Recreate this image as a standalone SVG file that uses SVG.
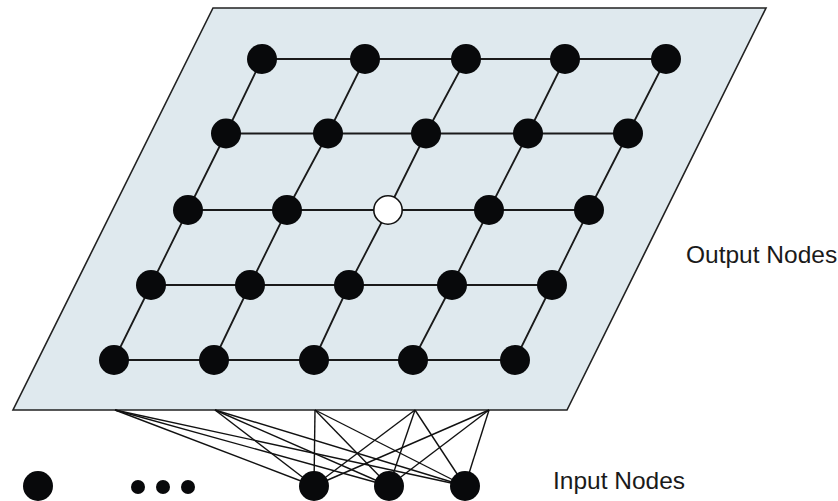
<svg xmlns="http://www.w3.org/2000/svg" width="838" height="501" viewBox="0 0 838 501">
<style>
.plane{fill:#dfe9ee;stroke:#222;stroke-width:1.6}
.grid line{stroke:#1a1a1a;stroke-width:1.8}
.links line{stroke:#111;stroke-width:1.4}
.n{fill:#08090b}
.w{fill:#fff;stroke:#111;stroke-width:1.6}
.lbl{font-family:"Liberation Sans",Arial,sans-serif;font-size:24.5px;fill:#1a1a1a}
</style>
<rect width="838" height="501" fill="#fff"/>
<polygon class="plane" points="213,8 766,8 567,410 13,410"/>
<g id="connectors">
<g class="grid">
<line x1="262" y1="59" x2="666" y2="59"/>
<line x1="226" y1="133.5" x2="628" y2="133.5"/>
<line x1="188" y1="210" x2="589" y2="210"/>
<line x1="151" y1="285" x2="552" y2="285"/>
<line x1="114" y1="360" x2="515" y2="360"/>
<polyline points="262,59 226,133.5 188,210 151,285 114,360" fill="none" stroke="#1a1a1a" stroke-width="1.8"/>
<polyline points="365,59 328,133.5 287,210 250,285 214,360" fill="none" stroke="#1a1a1a" stroke-width="1.8"/>
<polyline points="466,59 426,133.5 388,210 349,285 314,360" fill="none" stroke="#1a1a1a" stroke-width="1.8"/>
<polyline points="565,59 528,133.5 489,210 452,285 413,360" fill="none" stroke="#1a1a1a" stroke-width="1.8"/>
<polyline points="666,59 628,133.5 589,210 552,285 515,360" fill="none" stroke="#1a1a1a" stroke-width="1.8"/>
</g>
<g class="links">
<line x1="115" y1="410" x2="314" y2="486"/>
<line x1="115" y1="410" x2="389" y2="486"/>
<line x1="115" y1="410" x2="465" y2="486"/>
<line x1="215" y1="410" x2="314" y2="486"/>
<line x1="215" y1="410" x2="389" y2="486"/>
<line x1="215" y1="410" x2="465" y2="486"/>
<line x1="315" y1="410" x2="314" y2="486"/>
<line x1="315" y1="410" x2="389" y2="486"/>
<line x1="315" y1="410" x2="465" y2="486"/>
<line x1="415" y1="410" x2="314" y2="486"/>
<line x1="415" y1="410" x2="389" y2="486"/>
<line x1="415" y1="410" x2="465" y2="486"/>
<line x1="489" y1="410" x2="314" y2="486"/>
<line x1="489" y1="410" x2="389" y2="486"/>
<line x1="489" y1="410" x2="465" y2="486"/>
</g>
</g>
<g id="output-nodes">
<g id="o11"><circle class="n" cx="262" cy="59" r="15"/></g>
<g id="o12"><circle class="n" cx="365" cy="59" r="15"/></g>
<g id="o13"><circle class="n" cx="466" cy="59" r="15"/></g>
<g id="o14"><circle class="n" cx="565" cy="59" r="15"/></g>
<g id="o15"><circle class="n" cx="666" cy="59" r="15"/></g>
<g id="o21"><circle class="n" cx="226" cy="133.5" r="15"/></g>
<g id="o22"><circle class="n" cx="328" cy="133.5" r="15"/></g>
<g id="o23"><circle class="n" cx="426" cy="133.5" r="15"/></g>
<g id="o24"><circle class="n" cx="528" cy="133.5" r="15"/></g>
<g id="o25"><circle class="n" cx="628" cy="133.5" r="15"/></g>
<g id="o31"><circle class="n" cx="188" cy="210" r="15"/></g>
<g id="o32"><circle class="n" cx="287" cy="210" r="15"/></g>
<g id="o33"><circle class="w" cx="388" cy="210" r="14.2"/></g>
<g id="o34"><circle class="n" cx="489" cy="210" r="15"/></g>
<g id="o35"><circle class="n" cx="589" cy="210" r="15"/></g>
<g id="o41"><circle class="n" cx="151" cy="285" r="15"/></g>
<g id="o42"><circle class="n" cx="250" cy="285" r="15"/></g>
<g id="o43"><circle class="n" cx="349" cy="285" r="15"/></g>
<g id="o44"><circle class="n" cx="452" cy="285" r="15"/></g>
<g id="o45"><circle class="n" cx="552" cy="285" r="15"/></g>
<g id="o51"><circle class="n" cx="114" cy="360" r="15"/></g>
<g id="o52"><circle class="n" cx="214" cy="360" r="15"/></g>
<g id="o53"><circle class="n" cx="314" cy="360" r="15"/></g>
<g id="o54"><circle class="n" cx="413" cy="360" r="15"/></g>
<g id="o55"><circle class="n" cx="515" cy="360" r="15"/></g>
</g>
<g id="input-nodes">
<g id="i0"><circle class="n" cx="38" cy="486" r="15"/></g>
<g id="ellipsis"><circle class="n" cx="138" cy="487" r="7"/><circle class="n" cx="163" cy="487" r="7"/><circle class="n" cx="188" cy="487" r="7"/></g>
<g id="i1"><circle class="n" cx="314" cy="486" r="15"/></g>
<g id="i2"><circle class="n" cx="389" cy="486" r="15"/></g>
<g id="i3"><circle class="n" cx="465" cy="486" r="15"/></g>
</g>
<text class="lbl" x="686" y="263">Output Nodes</text>
<text class="lbl" x="553" y="489">Input Nodes</text>
</svg>
